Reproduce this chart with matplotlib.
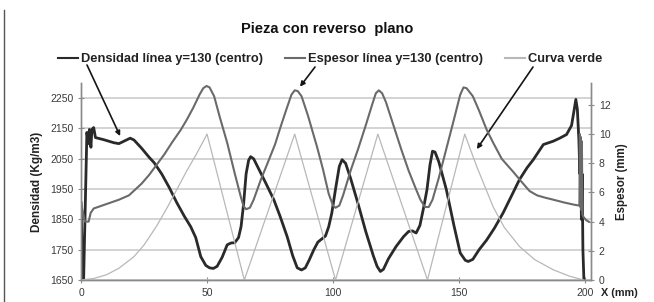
import matplotlib
matplotlib.use("Agg")
import matplotlib.pyplot as plt
from matplotlib.lines import Line2D

plt.rcParams['font.family'] = ['Liberation Sans', 'DejaVu Sans']

# Densidad línea y=130 (centro) -> eje izquierdo (kg/m3)
dens_x = [0.0, 0.6, 1.0, 2.3, 2.9, 3.3, 3.9, 4.3, 5.0, 5.7, 9, 13, 15, 17, 19.5, 21,
          24, 27, 29, 32, 35, 38, 41, 43.5, 45.5, 47.5, 49.5, 51, 52.5, 54, 56, 58,
          59.5, 61, 62.5, 63.5, 64.5, 65.5, 66.5, 67.3, 68.5, 70, 73, 76.5, 79, 81.8,
          84, 85.8, 87.5, 89, 90.5, 92.4, 94, 95.5, 97, 98.3, 99.5, 101, 102.5, 103.6,
          105, 107, 110, 113, 116, 117.5, 118.8, 120, 122, 125, 128, 130, 131.5, 133,
          134.5, 136, 137.3, 138.5, 139.5, 140.5, 142, 145, 148, 150.5, 152.5, 153.7,
          155.5, 158, 161, 164, 167.5, 171, 174, 177, 179.5, 183.5, 187.4, 190, 192.7,
          194.7, 195.7, 196.4, 197.0, 197.6, 198.0, 198.3, 198.6, 198.9, 199.2, 199.6]
dens_y = [1905, 1650, 1650, 2137, 2100, 2147, 2088, 2147, 2153, 2120, 2113, 2103, 2100,
          2108, 2118, 2112, 2085, 2055, 2037, 2000, 1955, 1905, 1860, 1826, 1790, 1727,
          1698, 1690, 1688, 1695, 1725, 1766, 1772, 1773, 1790, 1826, 1900, 2000, 2045,
          2057, 2050, 2025, 1975, 1915, 1860, 1793, 1730, 1690, 1683, 1690, 1715, 1750,
          1775, 1785, 1795, 1826, 1870, 1950, 2025, 2047, 2035, 1985, 1900, 1810, 1730,
          1695, 1678, 1685, 1720, 1760, 1793, 1810, 1812, 1805, 1830, 1890, 1948, 2030,
          2075, 2072, 2040, 1948, 1830, 1739, 1715, 1711, 1718, 1750, 1782, 1820, 1871,
          1930, 1981, 2020, 2047, 2097, 2108, 2118, 2130, 2160, 2210, 2246, 2213, 2113,
          2000, 2100, 1850, 2000, 1750, 1650]

# Espesor línea y=130 (centro) -> eje derecho (mm)
esp_x = [0, 0.8, 1.5, 3, 3.8, 5, 10, 15, 19, 21.5, 24, 27, 30, 33, 36, 39.6, 42, 44.5,
         47, 48.5, 49.8, 51, 52.8, 55, 58, 61, 63.4, 64.5, 65.5, 67, 68.5, 71.3, 74, 77,
         79.2, 81.5, 83.5, 84.8, 86, 87.5, 90, 93.7, 96, 98.3, 100, 101, 102.5, 104, 107,
         110, 113, 115.5, 117, 118.2, 119.5, 121, 124, 127, 130, 133, 134.7, 136.5, 138,
         139.5, 142, 145, 148, 150.5, 151.8, 153, 155.5, 158, 161, 163.6, 167, 171.6, 175,
         178, 181, 184, 187.5, 192, 196, 197.8, 198.0, 198.2, 198.4, 198.6, 198.8, 199.0,
         199.5, 200.5, 201.5]
esp_y = [5.2, 4.6, 4.0, 4.0, 4.6, 4.9, 5.2, 5.5, 5.8, 6.2, 6.6, 7.2, 7.9, 8.6, 9.4, 10.3,
         11.0, 11.8, 12.7, 13.15, 13.3, 13.2, 12.6, 11.2, 9.4, 7.3, 5.7, 5.05, 4.85, 4.95,
         5.5, 6.85, 8.0, 9.3, 10.5, 11.7, 12.7, 13.0, 12.95, 12.6, 11.3, 9.1, 7.6, 5.9, 5.1,
         4.95, 5.1, 5.8, 7.5, 9.0, 10.6, 12.0, 12.8, 13.0, 12.8, 12.2, 10.6, 9.0, 7.5, 6.2,
         5.5, 5.0, 5.0, 5.5, 7.0, 9.0, 11.0, 12.7, 13.2, 13.15, 12.6, 11.6, 10.3, 9.4, 8.3,
         7.4, 6.7, 6.1, 5.8, 5.65, 5.5, 5.3, 5.15, 5.1, 10.0, 5.0, 9.8, 4.8, 9.5, 4.5, 4.3,
         4.1, 4.0]

# Curva verde -> eje derecho (mm)
verde_x = [0, 5, 10, 15, 21, 25, 30, 34.3, 38, 42, 46, 50, 64.8, 84.8, 101, 117.8, 137.5,
           152.3, 157, 163.6, 168, 174, 180, 187.4, 194, 199.5]
verde_y = [0, 0.1, 0.35, 0.8, 1.6, 2.4, 3.7, 5.0, 6.2, 7.5, 8.7, 10.0, 0, 10, 0, 10, 0,
           10, 7.8, 5.0, 3.6, 2.3, 1.4, 0.7, 0.25, 0]

dens_ticks = [1650, 1750, 1850, 1950, 2050, 2150, 2250]
esp_ticks = [0, 2, 4, 6, 8, 10, 12]
x_ticks = [0, 50, 100, 150, 200]

C_DENS = "#2a2a2a"
C_ESP = "#6a6a6a"
C_VERDE = "#b8b8b8"
C_AXIS = "#8a8a8a"

fig = plt.figure(figsize=(6.54, 3.02), dpi=100)
ax = fig.add_axes([0.124, 0.073, 0.780, 0.652])
ax2 = ax.twinx()

ax.plot(dens_x, dens_y, color=C_DENS, lw=2.0, solid_joinstyle='round')
ax2.plot(esp_x, esp_y, color=C_ESP, lw=1.5, solid_joinstyle='round')
ax2.plot(verde_x, verde_y, color=C_VERDE, lw=0.9)

ax.set_xlim(0, 202.5)
ax.set_ylim(1650, 2300)
ax2.set_ylim(0, 13.5)

ax.set_xticks(x_ticks)
ax.set_yticks(dens_ticks)
ax2.set_yticks(esp_ticks)

ax.grid(axis='y', color="#d0d0d0", lw=1.3)
ax.set_axisbelow(True)

for a in (ax, ax2):
    a.spines['top'].set_visible(False)
    for s in ('left', 'right', 'bottom'):
        a.spines[s].set_color(C_AXIS)
        a.spines[s].set_linewidth(1.0)
    a.tick_params(direction='inout', length=5, width=0.8, color=C_AXIS,
                  labelsize=7.5, labelcolor="#3a3a3a", pad=3)

ax.set_ylabel("Densidad (Kg/m3)", fontsize=8.5, fontweight='bold', color="#222", labelpad=5)
ax2.set_ylabel("Espesor (mm)", fontsize=8.3, fontweight='bold', color="#222", labelpad=4)
fig.text(601 / 654, 1 - 293 / 302, "X (mm)", fontsize=7.8, fontweight='bold',
         color="#222", ha='left', va='center')

fig.text(0.5, 1 - 29 / 302, "Pieza con reverso  plano", fontsize=10.5, fontweight='bold',
         color="#111", ha='center', va='center')

handles = [Line2D([], [], color=C_DENS, lw=1.5),
           Line2D([], [], color=C_ESP, lw=1.5),
           Line2D([], [], color=C_VERDE, lw=1.5)]
labels = ["Densidad línea y=130 (centro)", "Espesor línea y=130 (centro)", "Curva verde"]
leg = fig.legend(handles, labels, loc='center', bbox_to_anchor=(0.505, 1 - 59 / 302),
                 ncol=3, frameon=False, handlelength=1.55, handletextpad=0.25,
                 columnspacing=1.7, prop={'size': 9.3, 'weight': 'bold'})
for t in leg.get_texts():
    t.set_color("#222")

# flechas desde la leyenda hacia cada curva
arrow = dict(arrowstyle='-|>', color="#151515", lw=1.2, mutation_scale=7, shrinkA=0, shrinkB=0)
ax.annotate("", xy=(15.5, 2125), xytext=(87 / 654, 1 - 65 / 302),
            textcoords='figure fraction', arrowprops=arrow)
ax.annotate("", xy=(86.9, 2288), xytext=(315 / 654, 1 - 67 / 302),
            textcoords='figure fraction', arrowprops=arrow, annotation_clip=False)
ax.annotate("", xy=(157.1, 2082), xytext=(533 / 654, 1 - 67 / 302),
            textcoords='figure fraction', arrowprops=arrow)

# borde izquierdo del recuadro
fig.add_artist(Line2D([4 / 654, 4 / 654], [0, 1 - 10 / 302], color="#555", lw=1.0))

fig.savefig("out.png", dpi=100)
